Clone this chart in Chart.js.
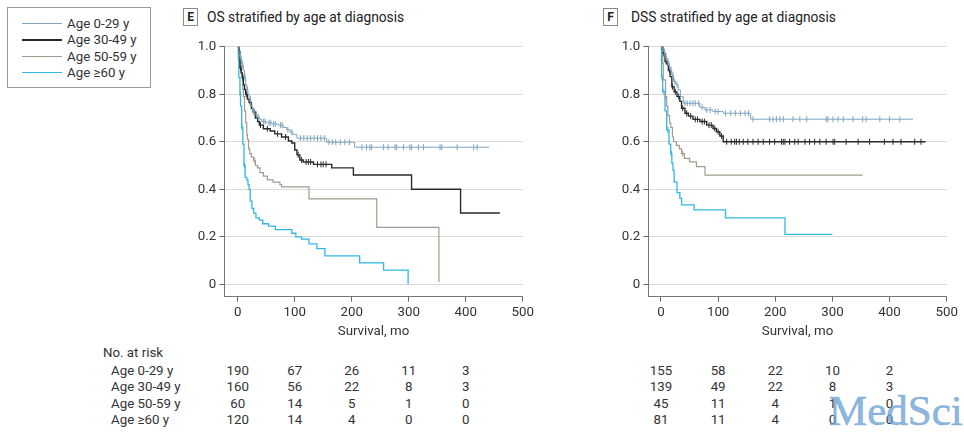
<!DOCTYPE html>
<html lang="en">
<head>
<meta charset="UTF-8" />
<title>OS and DSS stratified by age at diagnosis</title>
<script src="https://cdn.jsdelivr.net/npm/chart.js"></script>
<style>
  body {
    margin: 0;
    width: 964px;
    height: 434px;
    position: relative;
    overflow: hidden;
    background: #fff;
    font-family: Roboto, 'Open Sans', sans-serif;
    color: #333;
  }
  .abs { position: absolute; white-space: nowrap; line-height: 16px; font-size: 13.3px; }
  .legend {
    position: absolute; left: 7px; top: 7px; width: 144px; height: 81px;
    border: 1px solid #9a9a9a; box-sizing: border-box;
  }
  .swatch { position: absolute; width: 40px; }
  .panel-box {
    position: absolute; width: 15px; height: 18px; box-sizing: border-box;
    border: 1px solid #8a8a8a; font-weight: bold; font-size: 12px;
    text-align: center; line-height: 16px; color: #222;
  }
  .panel-title { position: absolute; font-size: 13.8px; line-height: 18px; color: #222; white-space: nowrap; }
  .wrap { position: absolute; width: 370px; height: 320px; }
  .watermark {
    position: absolute; left: 829px; top: 388px; font-family: 'Liberation Serif', 'DejaVu Serif', serif;
    font-size: 43px; color: rgba(105, 160, 212, 0.75); line-height: 46px;
    -webkit-text-stroke: 0.6px rgba(105, 160, 212, 0.75);
  }
</style>
</head>
<body>
  <div class="legend" id="legend"></div>

  <div class="panel-box" style="left:183px; top:8px;">E</div>
  <div class="panel-title" style="left:207px; top:8px;">OS stratified by age at diagnosis</div>
  <div class="panel-box" style="left:603px; top:8px;">F</div>
  <div class="panel-title" style="left:631px; top:8px;">DSS stratified by age at diagnosis</div>

  <div class="wrap" style="left:170px; top:30px;"><canvas id="osChart" width="370" height="320"></canvas></div>
  <div class="wrap" style="left:594px; top:30px;"><canvas id="dssChart" width="370" height="320"></canvas></div>

  <div id="riskTable"></div>
  <div class="watermark">MedSci</div>

<script>
const groups = ['Age 0-29 y', 'Age 30-49 y', 'Age 50-59 y', 'Age \u226560 y'];
const colors = ['#7fa5c0', '#2a2a2a', '#a39a8e', '#30b8e4'];
const widths = [1, 1.4, 1.2, 1.3];

const xTicks = [0, 100, 200, 300, 400, 500];
const yTicks = [0, 0.2, 0.4, 0.6, 0.8, 1.0];
const riskTimes = [0, 100, 200, 300, 400];

// OS (panel E), time in months / survival probability / censored times
const os029T = [0, 2, 4, 6, 8, 10, 12, 14, 16, 18, 20, 23, 26, 30, 34, 38, 42, 50, 60, 71, 80, 86, 92, 97, 104, 156, 205, 441];
const os029S = [1, 0.98, 0.96, 0.94, 0.92, 0.90, 0.87, 0.84, 0.82, 0.80, 0.78, 0.75, 0.73, 0.715, 0.705, 0.695, 0.685, 0.68, 0.675, 0.67, 0.66, 0.65, 0.64, 0.63, 0.615, 0.598, 0.577, 0.577];
const os029C = [5, 7, 9, 13, 17, 22, 28, 33, 36, 45, 48, 55, 58, 63, 66, 75, 78, 88, 95, 110, 116, 122, 128, 134, 140, 146, 152, 160, 166, 172, 180, 188, 196,
  218, 226, 232, 235, 256, 264, 276, 279, 291, 302, 305, 317, 326, 355, 358, 385, 414, 420];

const os3049T = [0, 2, 4, 6, 8, 10, 12, 14, 17, 20, 24, 27, 31, 35, 38, 45, 57, 65, 77, 89, 95, 100, 104, 109, 115, 133, 165, 203, 305, 391, 460];
const os3049S = [1, 0.98, 0.91, 0.89, 0.87, 0.84, 0.82, 0.80, 0.78, 0.765, 0.74, 0.725, 0.70, 0.685, 0.67, 0.655, 0.645, 0.633, 0.62, 0.603, 0.595, 0.565, 0.545, 0.523, 0.515, 0.505, 0.49, 0.46, 0.40, 0.30, 0.30];
const os3049C = [3, 5, 9, 15, 22, 29, 40, 52, 70, 84, 106, 112, 120, 124, 128, 140, 146, 150, 155];

const os5059T = [0, 3, 5, 7, 9, 10, 12, 14, 16, 17, 19, 21, 24, 28, 31, 35, 39, 45, 52, 62, 74, 77, 125, 244, 353];
const os5059S = [1, 0.97, 0.93, 0.88, 0.82, 0.79, 0.73, 0.68, 0.63, 0.61, 0.57, 0.55, 0.535, 0.52, 0.50, 0.49, 0.47, 0.455, 0.44, 0.43, 0.42, 0.41, 0.36, 0.24, 0.01];
const os5059C = [8, 30];

const os60T = [0, 1, 2, 4, 5, 7, 9, 11, 13, 16, 18, 20, 22, 25, 28, 32, 38, 44, 54, 66, 95, 102, 112, 125, 139, 153, 214, 256, 299];
const os60S = [1, 0.95, 0.87, 0.80, 0.75, 0.66, 0.59, 0.50, 0.45, 0.44, 0.42, 0.40, 0.35, 0.32, 0.30, 0.28, 0.27, 0.255, 0.245, 0.23, 0.215, 0.20, 0.19, 0.17, 0.15, 0.12, 0.09, 0.06, 0.0];
const os60C = [1.5, 4.5, 7.5, 12];

// DSS (panel F)
const dss029T = [0, 4, 7, 10, 13, 16, 19, 22, 26, 30, 34, 39, 68, 77, 91, 109, 157, 441];
const dss029S = [1, 0.98, 0.96, 0.94, 0.92, 0.90, 0.88, 0.853, 0.84, 0.818, 0.79, 0.762, 0.745, 0.734, 0.727, 0.72, 0.695, 0.695];
const dss029C = [3, 6, 9, 12, 15, 18, 21, 24, 28, 42, 46, 51, 56, 60, 66, 72, 80, 86, 95, 100, 113, 122, 130, 139, 147, 153,
  161, 190, 196, 202, 208, 214, 231, 243, 255, 289, 292, 301, 310, 319, 336, 353, 359, 383, 400, 418];

const dss3049T = [0, 4, 7, 10, 13, 16, 19, 23, 28, 33, 36, 42, 48, 56, 68, 80, 91, 97, 103, 109, 463];
const dss3049S = [1, 0.972, 0.937, 0.93, 0.90, 0.874, 0.832, 0.81, 0.79, 0.77, 0.741, 0.72, 0.708, 0.694, 0.685, 0.67, 0.656, 0.642, 0.624, 0.60, 0.60];
const dss3049C = [2, 5, 9, 12, 15, 20, 25, 31, 38, 45, 52, 60, 64, 72, 76, 84, 88, 94, 100, 106, 115, 123, 129, 132, 137, 144, 152, 161, 170, 179,
  190, 199, 211, 214, 217, 225, 234, 240, 252, 260, 269, 278, 289, 301, 304, 324, 345, 365, 391, 406, 420, 444, 455];

const dss5059T = [0, 3, 4, 8, 10, 12, 15, 17, 20, 22, 27, 32, 36, 41, 50, 62, 77, 353];
const dss5059S = [1, 0.93, 0.86, 0.79, 0.75, 0.71, 0.68, 0.66, 0.62, 0.60, 0.585, 0.57, 0.55, 0.53, 0.515, 0.495, 0.46, 0.46];
const dss5059C = [8, 38];

const dss60T = [0, 1, 3, 7, 10, 14, 17, 19, 21, 23, 28, 33, 36, 58, 113, 217, 300];
const dss60S = [1, 0.87, 0.81, 0.73, 0.65, 0.59, 0.55, 0.51, 0.48, 0.43, 0.386, 0.362, 0.334, 0.313, 0.28, 0.21, 0.21];
const dss60C = [2, 5, 12, 18];

// number at risk
const osRisk029 = [190, 67, 26, 11, 3];
const osRisk3049 = [160, 56, 22, 8, 3];
const osRisk5059 = [60, 14, 5, 1, 0];
const osRisk60 = [120, 14, 4, 0, 0];
const dssRisk029 = [155, 58, 22, 10, 2];
const dssRisk3049 = [139, 49, 22, 8, 3];
const dssRisk5059 = [45, 11, 4, 1, 0];
const dssRisk60 = [81, 11, 4, 0, 0];

const FONT = "Roboto, 'Open Sans', sans-serif";

// survival value at time t (step function lookup for censor marks)
function survAt(T, S, t) {
  let v = S[0];
  for (let i = 0; i < T.length; i++) { if (T[i] <= t) v = S[i]; }
  return v;
}

function buildDatasets(series) {
  const ds = [];
  series.forEach((s, i) => {
    ds.push({
      label: groups[i],
      data: s.t.map((t, k) => ({ x: t, y: s.s[k] })),
      stepped: true,
      borderColor: colors[i],
      borderWidth: widths[i],
      pointRadius: 0,
      fill: false
    });
    ds.push({
      label: groups[i] + ' censored',
      data: s.c.map(t => ({ x: t, y: survAt(s.t, s.s, t) })),
      showLine: false,
      pointStyle: 'line',
      rotation: 90,
      pointRadius: 3,
      pointBorderColor: colors[i],
      pointBorderWidth: 1,
      borderColor: colors[i]
    });
  });
  return ds;
}

function makeChart(id, series, xMin) {
  const ctx = document.getElementById(id).getContext('2d');
  return new Chart(ctx, {
    type: 'line',
    data: { datasets: buildDatasets(series) },
    options: {
      responsive: false,
      animation: false,
      layout: { padding: { left: 0, right: 17.3, top: 16.7, bottom: 3.3 } },
      plugins: { legend: { display: false }, tooltip: { enabled: false } },
      scales: {
        x: {
          type: 'linear', min: xMin, max: 500,
          afterBuildTicks: sc => { sc.ticks = xTicks.map(v => ({ value: v })); },
          afterFit: sc => { sc.height = 50; },
          grid: { drawOnChartArea: false, tickLength: 5, tickColor: '#666' },
          border: { color: '#777' },
          ticks: { color: '#333', font: { family: FONT, size: 13.3 }, padding: 3, maxRotation: 0 },
          title: {
            display: true, text: 'Survival, mo', color: '#333',
            font: { family: FONT, size: 13.3 }, padding: { top: 0, bottom: 7 }
          }
        },
        y: {
          type: 'linear', min: -0.052, max: 1.0,
          afterBuildTicks: sc => { sc.ticks = yTicks.map(v => ({ value: v })); },
          afterFit: sc => { sc.width = 54.3; },
          grid: { color: '#dadada', tickColor: '#666', tickLength: 5 },
          border: { color: '#777' },
          ticks: {
            color: '#333', font: { family: FONT, size: 13.3 }, padding: 3,
            callback: v => (v === 0 ? '0' : v.toFixed(1))
          }
        }
      }
    }
  });
}

const osChart = makeChart('osChart', [
  { t: os029T, s: os029S, c: os029C },
  { t: os3049T, s: os3049S, c: os3049C },
  { t: os5059T, s: os5059S, c: os5059C },
  { t: os60T, s: os60S, c: os60C }
], -23.5);

const dssChart = makeChart('dssChart', [
  { t: dss029T, s: dss029S, c: dss029C },
  { t: dss3049T, s: dss3049S, c: dss3049C },
  { t: dss5059T, s: dss5059S, c: dss5059C },
  { t: dss60T, s: dss60S, c: dss60C }
], -22.2);

// legend box
const legend = document.getElementById('legend');
const legendRows = [22.7, 39.3, 55.7, 71.7];
groups.forEach((g, i) => {
  const y = legendRows[i] - 7;
  const sw = document.createElement('div');
  sw.className = 'swatch';
  sw.style.left = (22 - 8) + 'px';
  sw.style.top = (y - Math.round(widths[i] / 2)) + 'px';
  sw.style.borderTop = (i === 1 ? 2 : 1) + 'px solid ' + colors[i];
  legend.appendChild(sw);
  const tx = document.createElement('div');
  tx.className = 'abs';
  tx.style.left = (67 - 8) + 'px';
  tx.style.top = (y - 8) + 'px';
  tx.textContent = g;
  legend.appendChild(tx);
});

// number at risk table, numbers centred on the x ticks of each chart
const table = document.getElementById('riskTable');
function addText(txt, x, yc, center) {
  const d = document.createElement('div');
  d.className = 'abs';
  d.textContent = txt;
  d.style.top = (yc - 8) + 'px';
  if (center) {
    d.style.left = (x - 30) + 'px';
    d.style.width = '60px';
    d.style.textAlign = 'center';
  } else {
    d.style.left = x + 'px';
  }
  table.appendChild(d);
}
const rowY = [370.7, 387, 403.5, 420];
addText('No. at risk', 103, 352.7, false);
groups.forEach((g, i) => addText(g, 111, rowY[i], false));

function addRisk(chart, left, rows) {
  rows.forEach((row, r) => {
    row.forEach((n, k) => {
      const px = left + chart.scales.x.getPixelForValue(riskTimes[k]);
      addText(String(n), px, rowY[r], true);
    });
  });
}
addRisk(osChart, 170, [osRisk029, osRisk3049, osRisk5059, osRisk60]);
addRisk(dssChart, 594, [dssRisk029, dssRisk3049, dssRisk5059, dssRisk60]);
</script>
</body>
</html>
